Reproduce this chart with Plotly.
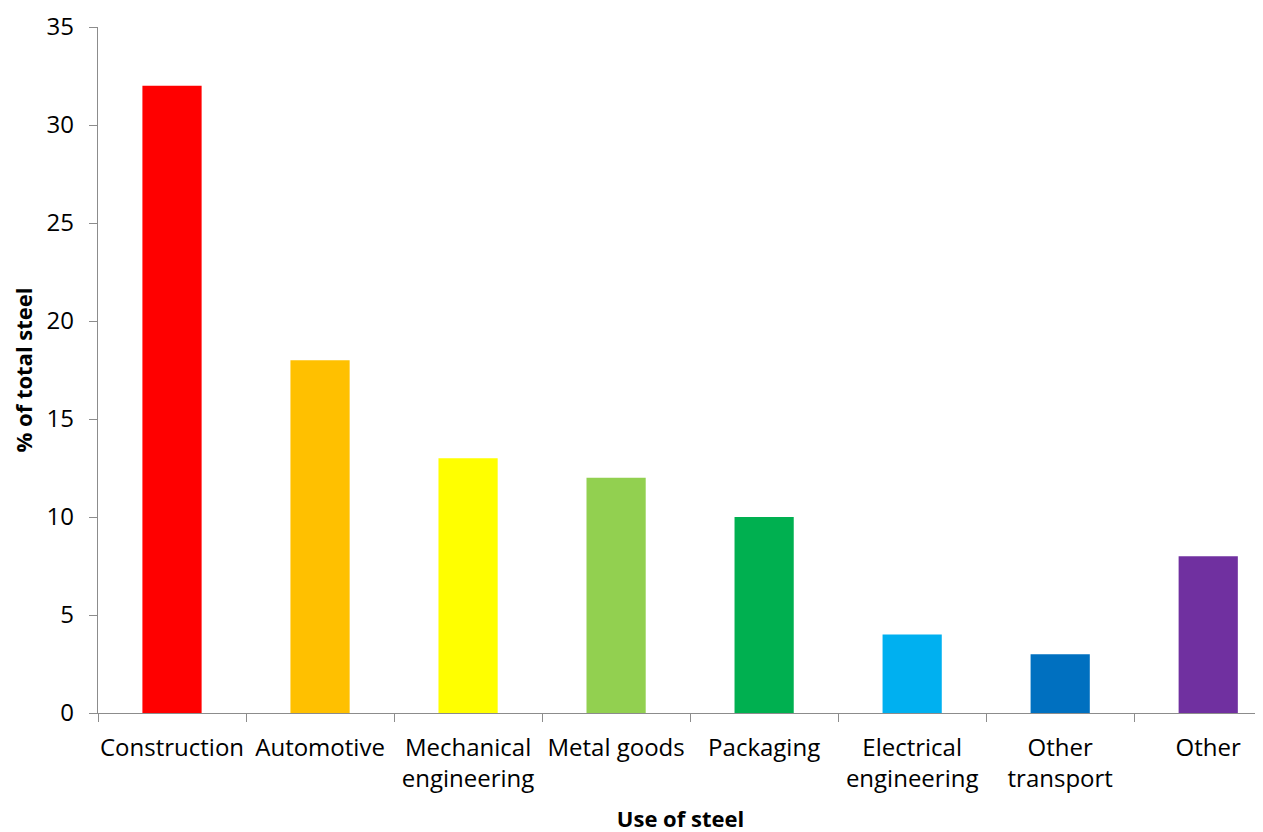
import plotly.graph_objects as go

categories = ["Construction", "Automotive", "Mechanical<br>engineering", "Metal goods",
              "Packaging", "Electrical<br>engineering", "Other<br>transport", "Other"]
values = [32, 18, 13, 12, 10, 4, 3, 8]
colors = ["#FF0000", "#FFC000", "#FFFF00", "#92D050", "#00B050", "#00B0F0", "#0070C0", "#7030A0"]
y_ticks = [0, 5, 10, 15, 20, 25, 30, 35]

FONT = "Open Sans"

fig = go.Figure(go.Bar(x=categories, y=values, marker_color=colors, width=0.4,
                       marker_line_width=0))

fig.update_layout(
    width=1263, height=832,
    margin=dict(l=90, r=8, t=19, b=127, autoexpand=False),
    paper_bgcolor="white", plot_bgcolor="white",
    font=dict(family=FONT, color="#000000"),
    showlegend=False,
)
fig.update_xaxes(
    range=[-0.5, 7.37], automargin=False, tickangle=0,
    showline=True, linecolor="#8c8c8c", linewidth=1.3,
    ticks="outside", tickson="boundaries", ticklen=8, tickcolor="#8c8c8c",
    ticklabelstandoff=13,
    tickfont=dict(size=24, family=FONT, color="#000"),
    title=dict(text="<b>Use of steel</b>", font=dict(size=22, family=FONT), standoff=18),
    showgrid=False,
)
fig.update_yaxes(
    range=[0, 35], tickvals=y_ticks, automargin=False,
    showline=True, linecolor="#8c8c8c", linewidth=1.3,
    ticks="outside", ticklen=8, tickcolor="#8c8c8c",
    ticklabelstandoff=10,
    tickfont=dict(size=24, family=FONT, color="#000"),
    title=dict(text="<b>% of total steel</b>", font=dict(size=22, family=FONT), standoff=17),
    showgrid=False, zeroline=False,
)

fig.write_html("out.html")
